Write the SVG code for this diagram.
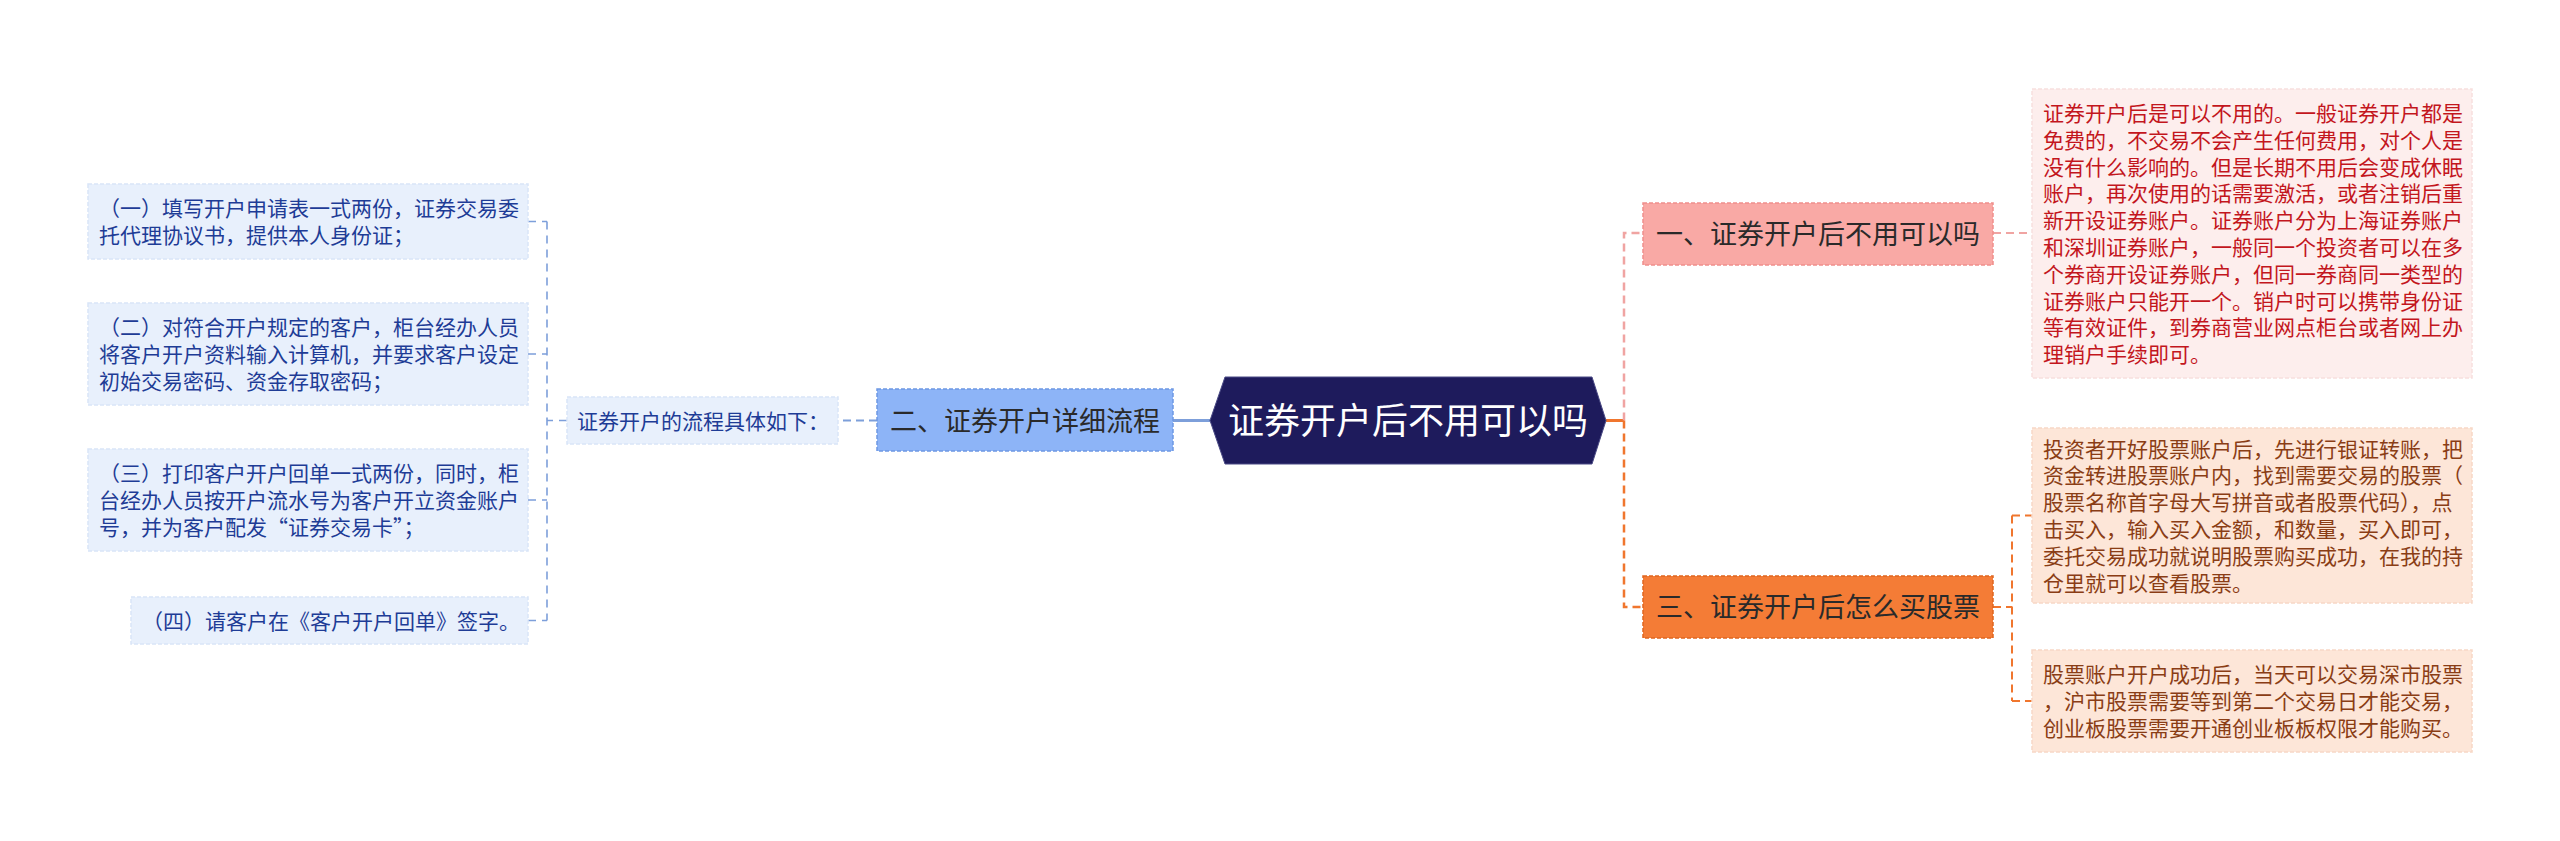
<svg xmlns="http://www.w3.org/2000/svg" width="2560" height="841" viewBox="0 0 2560 841">
<style>
text{font-family:"Noto Sans CJK SC","Noto Sans",sans-serif}
.leaf{font-size:21px}
.br{font-size:27px;fill:#2a2a2a;text-anchor:middle}
.lb{fill:#e8f0fc;stroke:#d9e5f8;stroke-width:1.5;stroke-dasharray:4 2}
.lt{fill:#1e3c96}
.r1b{fill:#fdeeed;stroke:#f8e0de;stroke-width:1.5;stroke-dasharray:4 2}
.r1t{fill:#c3161d}
.r3b{fill:#fde6d8;stroke:#f7d8c6;stroke-width:1.5;stroke-dasharray:4 2}
.r3t{fill:#8a3d15}
.c{fill:none}
.blue{stroke:#7d9fda}
.pink{stroke:#f0a4a2}
.orange{stroke:#f0762e}
.d{stroke-width:2;stroke-dasharray:8 5}
.dl{stroke-width:1.6;stroke-dasharray:8 6}
</style>
<rect width="2560" height="841" fill="#ffffff"/>

<g id="connectors">
  <path class="c blue" stroke-width="3" d="M1210,420.5 H1173"/>
  <path class="c blue d" d="M877,420.5 H838"/>
  <path class="c blue dl" d="M567,420.5 H547"/>
  <path class="c blue dl" d="M547,221.5 V620.5"/>
  <path class="c blue dl" d="M528,221.5 H547 M528,354 H547 M528,500 H547 M528,620.5 H547"/>
  <path class="c orange" stroke-width="3" d="M1606,420.5 H1624"/>
  <path class="c pink" stroke-width="2.5" stroke-dasharray="8 5" d="M1624,420.5 V233 H1643"/>
  <path class="c orange" stroke-width="2.5" stroke-dasharray="8 5" d="M1624,420.5 V607 H1643"/>
  <path class="c pink d" d="M1993,233 H2032"/>
  <path class="c orange d" d="M1993,607 H2012"/>
  <path class="c orange d" d="M2012,515.5 V701"/>
  <path class="c orange d" d="M2012,515.5 H2032 M2012,701 H2032"/>
</g>

<g id="center">
  <polygon points="1210,420.5 1225,377 1592,377 1606,420.5 1592,464 1225,464" fill="#1e1b5c" stroke="#4a4a85" stroke-width="1"/>
  <text x="1408" y="434" font-size="36" fill="#ffffff" text-anchor="middle">证券开户后不用可以吗</text>
</g>

<g id="branch1">
  <rect x="1643" y="203" width="350" height="62" fill="#f9a9a5" stroke="#ef8f8c" stroke-width="1.5" stroke-dasharray="4 2"/>
  <text class="br" x="1818" y="244">一、证券开户后不用可以吗</text>
</g>

<g id="branch3">
  <rect x="1643" y="576" width="350" height="62" fill="#f47c36" stroke="#e0651f" stroke-width="1.5" stroke-dasharray="4 2"/>
  <text class="br" x="1818" y="617">三、证券开户后怎么买股票</text>
</g>

<g id="branch2">
  <rect x="877" y="389" width="296" height="62" fill="#8db4f7" stroke="#6e98e4" stroke-width="1.5" stroke-dasharray="4 2"/>
  <text class="br" x="1025" y="430.5">二、证券开户详细流程</text>
</g>

<g id="leaf-r1">
  <rect class="r1b" x="2032" y="89" width="440" height="289"/>
  <text class="leaf r1t">
    <tspan x="2043" y="121">证券开户后是可以不用的。一般证券开户都是</tspan>
    <tspan x="2043" y="147.8">免费的，不交易不会产生任何费用，对个人是</tspan>
    <tspan x="2043" y="174.6">没有什么影响的。但是长期不用后会变成休眠</tspan>
    <tspan x="2043" y="201.4">账户，再次使用的话需要激活，或者注销后重</tspan>
    <tspan x="2043" y="228.2">新开设证券账户。证券账户分为上海证券账户</tspan>
    <tspan x="2043" y="255">和深圳证券账户，一般同一个投资者可以在多</tspan>
    <tspan x="2043" y="281.8">个券商开设证券账户，但同一券商同一类型的</tspan>
    <tspan x="2043" y="308.6">证券账户只能开一个。销户时可以携带身份证</tspan>
    <tspan x="2043" y="335.4">等有效证件，到券商营业网点柜台或者网上办</tspan>
    <tspan x="2043" y="362.2">理销户手续即可。</tspan>
  </text>
</g>

<g id="leaf-r3a">
  <rect class="r3b" x="2032" y="428" width="440" height="175"/>
  <text class="leaf r3t">
    <tspan x="2043" y="456.5">投资者开好股票账户后，先进行银证转账，把</tspan>
    <tspan x="2043" y="483.3">资金转进股票账户内，找到需要交易的股票（</tspan>
    <tspan x="2043" y="510.1">股票名称首字母大写拼音或者股票代码），点</tspan>
    <tspan x="2043" y="536.9">击买入，输入买入金额，和数量，买入即可，</tspan>
    <tspan x="2043" y="563.7">委托交易成功就说明股票购买成功，在我的持</tspan>
    <tspan x="2043" y="590.5">仓里就可以查看股票。</tspan>
  </text>
</g>

<g id="leaf-r3b">
  <rect class="r3b" x="2032" y="650" width="440" height="102"/>
  <text class="leaf r3t">
    <tspan x="2043" y="682.2">股票账户开户成功后，当天可以交易深市股票</tspan>
    <tspan x="2043" y="709">，沪市股票需要等到第二个交易日才能交易，</tspan>
    <tspan x="2043" y="735.8">创业板股票需要开通创业板板权限才能购买。</tspan>
  </text>
</g>

<g id="mid">
  <rect class="lb" x="567" y="397" width="271" height="47"/>
  <text class="leaf lt" x="577" y="428.5">证券开户的流程具体如下：</text>
</g>

<g id="leaf-l1">
  <rect class="lb" x="88" y="184" width="440" height="75"/>
  <text class="leaf lt">
    <tspan x="99" y="216">（一）填写开户申请表一式两份，证券交易委</tspan>
    <tspan x="99" y="242.8">托代理协议书，提供本人身份证；</tspan>
  </text>
</g>

<g id="leaf-l2">
  <rect class="lb" x="88" y="303" width="440" height="102"/>
  <text class="leaf lt">
    <tspan x="99" y="335.2">（二）对符合开户规定的客户，柜台经办人员</tspan>
    <tspan x="99" y="362">将客户开户资料输入计算机，并要求客户设定</tspan>
    <tspan x="99" y="388.8">初始交易密码、资金存取密码；</tspan>
  </text>
</g>

<g id="leaf-l3">
  <rect class="lb" x="88" y="449" width="440" height="102"/>
  <text class="leaf lt">
    <tspan x="99" y="481.2">（三）打印客户开户回单一式两份，同时，柜</tspan>
    <tspan x="99" y="508">台经办人员按开户流水号为客户开立资金账户</tspan>
    <tspan x="99" y="534.8">号，并为客户配发“证券交易卡”；</tspan>
  </text>
</g>

<g id="leaf-l4">
  <rect class="lb" x="131" y="597" width="397" height="47"/>
  <text class="leaf lt" x="142" y="628.5">（四）请客户在《客户开户回单》签字。</text>
</g>
</svg>
